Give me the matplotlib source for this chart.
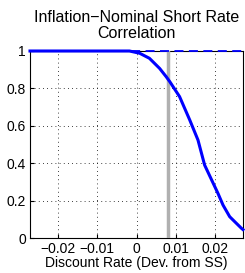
import numpy as np
import matplotlib
matplotlib.use("Agg")
import matplotlib.pyplot as plt

plt.rcParams['font.family'] = ['Liberation Sans', 'DejaVu Sans']

# correlation vs discount rate deviation
x = [-0.0272, -0.0018, 0.0008, 0.0033, 0.0059, 0.0076, 0.0085, 0.0110, 0.0136,
     0.0157, 0.0174, 0.0192, 0.0208, 0.0221, 0.0238, 0.0251, 0.0268, 0.0272]
corr = [1.0, 1.0, 0.988, 0.961, 0.907, 0.862, 0.836, 0.756, 0.631,
        0.524, 0.390, 0.310, 0.239, 0.176, 0.114, 0.087, 0.052, 0.045]
ref_x = [-0.0272, 0.0272]
ref_y = [1.0, 1.0]
vline = 0.0080

fig = plt.figure(figsize=(2.45, 2.73), dpi=100)
ax = fig.add_axes([30/245, 1 - 238/273, 213/245, 187/273])

ax.plot(ref_x, ref_y, color='blue', linestyle='--', linewidth=1.3, dashes=(5, 3),
        zorder=3, clip_on=False)
ax.plot(x, corr, color='blue', linewidth=2.2, zorder=3, clip_on=False)
ax.axvline(vline, color='#b0b0b0', linewidth=2.5, zorder=2.6)

ax.set_xlim(-0.0272, 0.0272)
ax.set_ylim(0, 1)
ax.set_xticks([-0.02, -0.01, 0, 0.01, 0.02])
ax.set_xticklabels(['\u22120.02', '\u22120.01', '0', '0.01', '0.02'])
ax.set_yticks([0, 0.2, 0.4, 0.6, 0.8, 1])
ax.set_yticklabels(['0', '0.2', '0.4', '0.6', '0.8', '1'])
ax.grid(True, color='black', linestyle=(0, (1, 4)), linewidth=0.6)
ax.tick_params(direction='in', length=3, labelsize=10, pad=3)
for s in ax.spines.values():
    s.set_linewidth(0.8)

ax.set_title('Inflation\u2212Nominal Short Rate\nCorrelation', fontsize=11.5, pad=9, linespacing=1.15)
ax.set_xlabel('Discount Rate (Dev. from SS)', fontsize=10, labelpad=0)

fig.savefig('out.png', dpi=100)
